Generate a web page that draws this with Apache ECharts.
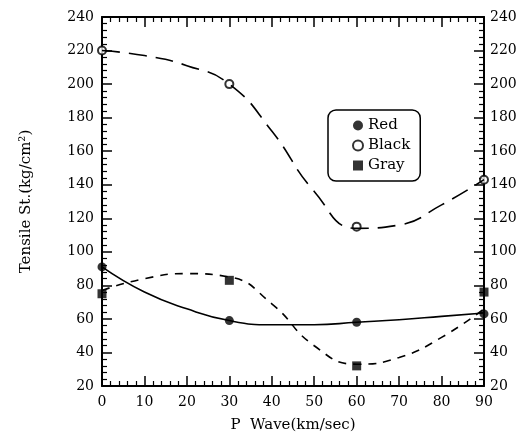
<!DOCTYPE html>
<html><head><meta charset="utf-8">
<script src="https://cdn.jsdelivr.net/npm/echarts@6/dist/echarts.min.js"></script>
<style>html,body{margin:0;padding:0;background:#fff}#c{width:525px;height:438px}</style>
</head><body><div id="c"></div>
<script>
// measured points (P wave, tensile strength)
const xPoints = [0, 30, 60, 90];
const redPts = [91, 59, 58, 63];
const blackPts = [220, 200, 115, 143];
const grayPts = [75, 83, 32, 76];
// fitted curves at every 10 km/sec
const curveX = [0, 10, 20, 30, 40, 50, 60, 70, 80, 90];
const redCurve = [91, 76, 66, 59, 56.5, 56.5, 58, 59.5, 61.5, 63.5];
const blackCurve = [220, 217, 211, 200, 172, 136, 114, 116, 128, 143];
const grayCurve = [77, 84, 87, 85, 69, 44, 33, 37, 49, 66];
const xTicks = [0, 10, 20, 30, 40, 50, 60, 70, 80, 90];
const yTicks = [20, 40, 60, 80, 100, 120, 140, 160, 180, 200, 220, 240];

const font = 'DejaVu Serif';
const pair = (xs, ys) => xs.map((x, i) => [x, ys[i]]);
const axisCommon = {
  axisLine: {show: true, onZero: false, lineStyle: {color: '#000', width: 2}},
  axisTick: {show: true, inside: true, length: 10, lineStyle: {color: '#000', width: 1.5}},
  minorTick: {show: true, splitNumber: 5, length: 5, lineStyle: {color: '#000', width: 1.2}},
  splitLine: {show: false}
};
const xBase = Object.assign({type: 'value', min: xTicks[0], max: xTicks[xTicks.length - 1], interval: 10}, axisCommon);
const yBase = Object.assign({type: 'value', min: yTicks[0], max: yTicks[yTicks.length - 1], interval: 20}, axisCommon);
const labelStyle = {color: '#000', fontFamily: font, fontSize: 14};

const chart = echarts.init(document.getElementById('c'), null, {renderer: 'canvas'});
chart.setOption({
  animation: false,
  backgroundColor: '#fff',
  grid: {left: 102, right: 41, top: 17, bottom: 52, containLabel: false},
  legend: {
    data: ['Red', 'Black', 'Gray'],
    orient: 'vertical', left: 328, top: 110,
    width: 98, height: 75,
    padding: [8, 10, 8, 24],
    itemGap: 5, itemWidth: 10, itemHeight: 10,
    borderColor: '#000', borderWidth: 1.5, borderRadius: 8,
    textStyle: {color: '#000', fontFamily: font, fontSize: 15}
  },
  xAxis: [
    Object.assign({}, xBase, {position: 'bottom',
      name: 'P  Wave(km/sec)', nameLocation: 'middle', nameGap: 32,
      nameTextStyle: {color: '#000', fontFamily: font, fontSize: 15},
      axisLabel: Object.assign({margin: 9}, labelStyle)}),
    Object.assign({}, xBase, {position: 'top', axisLabel: {show: false}})
  ],
  yAxis: [
    Object.assign({}, yBase, {position: 'left',
      name: 'Tensile St.(kg/cm²)', nameLocation: 'middle', nameGap: 68, nameRotate: 90,
      nameTextStyle: {color: '#000', fontFamily: font, fontSize: 15},
      axisLabel: Object.assign({margin: 8}, labelStyle)}),
    Object.assign({}, yBase, {position: 'right', axisLabel: Object.assign({margin: 6}, labelStyle)})
  ],
  series: [
    {type: 'line', data: pair(curveX, redCurve), smooth: 0.5, showSymbol: false, silent: true,
      lineStyle: {color: '#000', width: 1.6, type: 'solid'}},
    {type: 'line', data: pair(curveX, blackCurve), smooth: 0.5, showSymbol: false, silent: true,
      lineStyle: {color: '#000', width: 1.6, type: [18, 9]}},
    {type: 'line', data: pair(curveX, grayCurve), smooth: 0.5, showSymbol: false, silent: true,
      lineStyle: {color: '#000', width: 1.6, type: [8, 7]}},
    {name: 'Red', type: 'scatter', data: pair(xPoints, redPts), symbol: 'circle', symbolSize: 9,
      itemStyle: {color: '#000'}},
    {name: 'Black', type: 'scatter', data: pair(xPoints, blackPts), symbol: 'emptyCircle', symbolSize: 8,
      itemStyle: {color: '#000', borderColor: '#000', borderWidth: 2}},
    {name: 'Gray', type: 'scatter', data: pair(xPoints, grayPts), symbol: 'rect', symbolSize: 9,
      itemStyle: {color: '#000'}}
  ]
});
</script></body></html>
